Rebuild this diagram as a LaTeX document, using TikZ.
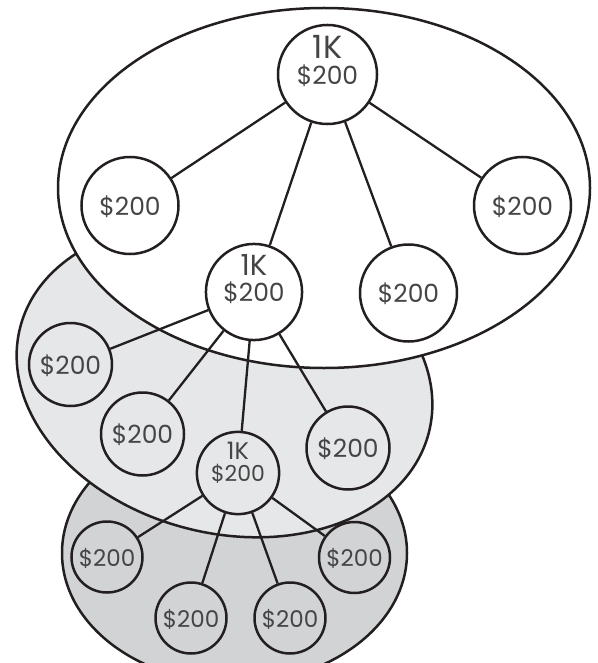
\documentclass[tikz,border=0pt]{standalone}
\usepackage{fontspec}
\setmainfont{Poppins}
\usepackage{xcolor}
\usetikzlibrary{positioning}
\definecolor{ink}{HTML}{231F20}
\definecolor{textgray}{HTML}{454545}
\definecolor{midgray}{HTML}{E6E7E8}
\definecolor{lowgray}{HTML}{D1D3D4}
\tikzstyle{coin} = [circle, draw=ink, line width=2.5pt, text=textgray, inner sep=0pt, text depth=0pt, font=\fontsize{25}{25}\selectfont]
\tikzstyle{topcoin} = [coin, minimum size=97pt, fill=white]
\tikzstyle{midcoin} = [coin, minimum size=83pt, fill=midgray]
\tikzstyle{lowcoin} = [coin, minimum size=71pt, fill=lowgray, font=\fontsize{23}{23}\selectfont]
\tikzstyle{hub} = [align=center]
\tikzstyle{zone} = [draw=ink, line width=2.5pt]
\tikzstyle{link} = [draw=ink, line width=2.3pt]

\begin{document}
\begin{tikzpicture}[x=1pt, y=-1pt]
    \clip (0,0) rectangle (597,663);
    % groups, back to front
    \draw [zone, fill=lowgray] (234.5,553) ellipse [x radius=172.5pt, y radius=130pt];
    \draw [zone, fill=midgray, rotate around={-14.5:(224.5,380)}] (224.5,380) ellipse [x radius=211pt, y radius=153pt];
    \draw [zone, fill=white] (324,188) ellipse [x radius=266pt, y radius=180pt];

    \node (top) [topcoin, hub, text depth=29pt] at (327.5,74.5) {{\fontsize{32}{24}\selectfont 1K}\\[1pt]\$200};
    \node (left1) [topcoin, node distance=131pt, below of=top, xshift=-197.5pt] {\$200};
    \node (right1) [topcoin, node distance=131pt, below of=top, xshift=195pt] {\$200};
    \node (inner1) [topcoin, node distance=218.5pt, below of=top, xshift=81pt] {\$200};
    \node (mid) [topcoin, hub, minimum size=95pt, text depth=27pt, node distance=217.5pt, below of=top, xshift=-73.5pt] {{\fontsize{29}{24}\selectfont 1K}\\[1pt]\$200};

    \node (left2) [midcoin, node distance=72.5pt, below of=mid, xshift=-183.5pt] {\$200};
    \node (low2) [midcoin, node distance=142pt, below of=mid, xshift=-111.5pt] {\$200};
    \node (right2) [midcoin, node distance=156pt, below of=mid, xshift=94pt] {\$200};
    \node (sub) [midcoin, hub, minimum size=78pt, text depth=23pt, font=\fontsize{22}{20}\selectfont, node distance=181pt, below of=mid, xshift=-16pt] {{\fontsize{24}{20}\selectfont 1K}\\[2pt]\$200};

    \node (base1) [lowcoin, node distance=84pt, below of=sub, xshift=-131pt] {\$200};
    \node (base2) [lowcoin, node distance=145pt, below of=sub, xshift=-47pt] {\$200};
    \node (base3) [lowcoin, node distance=145pt, below of=sub, xshift=52pt] {\$200};
    \node (base4) [lowcoin, node distance=84.5pt, below of=sub, xshift=116.5pt] {\$200};

    \draw [link] (top) -- (left1);
    \draw [link] (top) -- (mid);
    \draw [link] (top) -- (inner1);
    \draw [link] (top) -- (right1);
    \draw [link] (mid) -- (left2);
    \draw [link] (mid) -- (low2);
    \draw [link] (mid) -- (sub);
    \draw [link] (mid) -- (right2);
    \draw [link] (sub) -- (base1);
    \draw [link] (sub) -- (base2);
    \draw [link] (sub) -- (base3);
    \draw [link] (sub) -- (base4);
\end{tikzpicture}
\end{document}
